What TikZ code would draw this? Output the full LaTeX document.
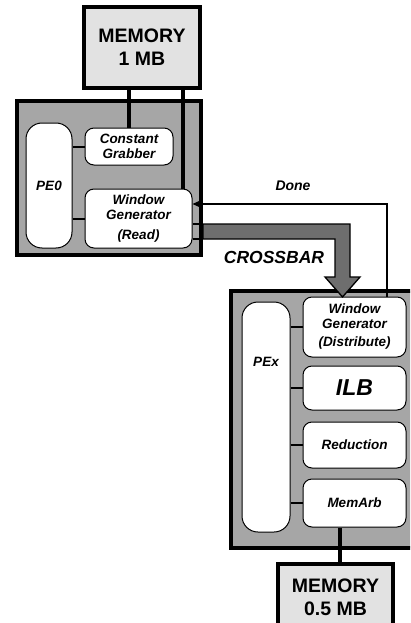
\documentclass[tikz,border=0pt]{standalone}
\usepackage{fontspec}
\setmainfont{Liberation Sans}
\usetikzlibrary{arrows.meta}
\definecolor{pegray}{HTML}{A6A6A6}
\definecolor{memfill}{HTML}{E2E2E2}
\definecolor{xbar}{HTML}{6E6E6E}
\begin{document}
\begin{tikzpicture}[x=1pt,y=-1pt,
  outerbox/.style={draw=black,line width=4pt,fill=pegray},
  membox/.style={draw=black,line width=4pt,fill=memfill,font=\fontsize{19.5}{22}\selectfont\bfseries,align=center},
  unit/.style={draw=black,line width=1pt,fill=white,rounded corners=9pt,font=\fontsize{13.5}{15}\selectfont\bfseries\itshape,align=center,inner sep=0pt},
  core/.style={draw=black,line width=1pt,fill=white,rounded corners=16pt,inner sep=0pt},
  lbl/.style={font=\fontsize{13.5}{15}\selectfont\bfseries\itshape},
  bus/.style={line width=4pt},
  link/.style={line width=2pt}]
\useasboundingbox (0,0) rectangle (410,623);
\fill[white] (0,0) rectangle (410,623);
\clip (0,0) rectangle (410,623);

% outer boxes
\node[outerbox,minimum width=184pt,minimum height=154pt] (pe0) at (109,178) {};
\node[outerbox,minimum width=227pt,minimum height=257pt] (pex) at (344.5,419.5) {};

% memories
\node[membox,minimum width=116pt,minimum height=81pt] (mem1) at (142,47.5) {MEMORY\\[1pt]1 MB};
\node[membox,minimum width=115pt,minimum height=66pt] (mem2) at (335.5,597) {MEMORY\\[1pt]0.5 MB};

% PE0 internals
\node[core,minimum width=46pt,minimum height=125pt,lbl] (pe0core) at (49,185.5) {PE0};
\node[unit,minimum width=88pt,minimum height=37pt] (cg) at (129,146.5) {Constant\\Grabber};
\node[unit,minimum width=107pt,minimum height=59pt] (wgr) at (138.5,218.5) {Window\\Generator\\[5pt](Read)};

% PEx internals
\node[core,minimum width=48pt,minimum height=230pt] (pexcore) at (266,417) {};
\node[lbl] (pexlabel) at (266,362) {PEx};
\node[unit,minimum width=103pt,minimum height=60pt] (wgd) at (354.5,327) {Window\\Generator\\[3pt](Distribute)};
\node[unit,minimum width=103pt,minimum height=44pt,font=\fontsize{23}{26}\selectfont\bfseries\itshape] (ilb) at (354.5,388) {ILB};
\node[unit,minimum width=103pt,minimum height=46pt] (red) at (354.5,445) {Reduction};
\node[unit,minimum width=103pt,minimum height=48pt] (marb) at (354.5,503) {MemArb};

% memory buses
\draw[bus] (mem1.south -| cg.north) -- (cg.north);
\coordinate (wgrtop) at ([xshift=-10pt]wgr.north east);
\draw[bus] (mem1.south -| wgrtop) -- (wgrtop);
\coordinate (marbbot) at ([xshift=-14.5pt]marb.south);
\draw[bus] (marbbot) -- (marbbot |- mem2.north);

% PE links
\draw[link] (pe0core.east |- cg.west) -- (cg.west);
\draw[link] (pe0core.east |- wgr.west) -- (wgr.west);
\draw[link] (pexcore.east |- wgd.west) -- (wgd.west);
\draw[link] (pexcore.east |- ilb.west) -- (ilb.west);
\draw[link] (pexcore.east |- red.west) -- (red.west);
\draw[link] (pexcore.east |- marb.west) -- (marb.west);

% crossbar
\coordinate (xa) at (wgr.east |- 0,224);
\coordinate (xb) at (wgr.east |- 0,239);
\draw[line width=1.3pt] (xa) -- (203,224);
\draw[line width=1.3pt] (xb) -- (203,239);
\filldraw[fill=xbar,draw=black,line width=1.3pt,line join=miter]
  (203,224) -- (350,224) -- (350,277) -- (360,277) -- (342.5,297) -- (325,277) -- (335,277) -- (335,239) -- (203,239) -- cycle;
\node[font=\fontsize{17.5}{19}\selectfont\bfseries\itshape] (xlabel) at (274,257) {CROSSBAR};

% done
\coordinate (donecorner) at (387,204);
\draw[line width=1.3pt,-{Triangle[length=7pt,width=6pt]}] (donecorner |- wgd.north) -- (donecorner) -- (wgr.east |- donecorner);
\node[font=\fontsize{14}{16}\selectfont\bfseries\itshape] (donelabel) at (293,186) {Done};
\end{tikzpicture}
\end{document}
